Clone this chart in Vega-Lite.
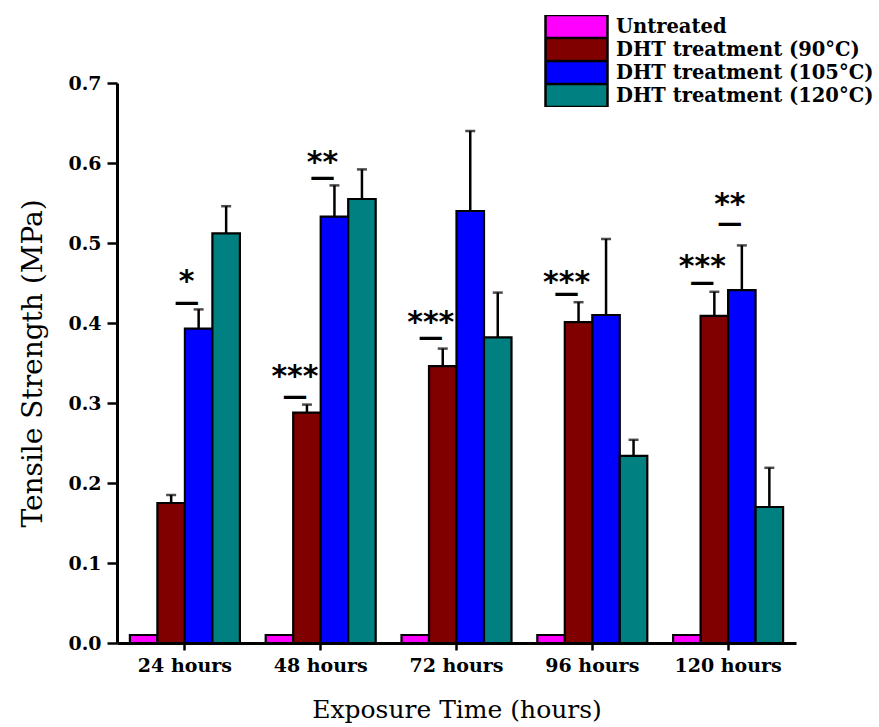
{
  "$schema": "https://vega.github.io/schema/vega-lite/v6.json",
  "width": 679,
  "height": 560,
  "autosize": {"type": "none"},
  "padding": {"left": 117, "top": 83, "right": 83, "bottom": 84},
  "background": "white",
  "config": {"view": {"stroke": null}, "font": "DejaVu Serif"},
  "datasets": {
    "bars": [
      {"time": "24 hours", "series": "Untreated", "value": 0.01, "upper": null},
      {"time": "24 hours", "series": "DHT treatment (90°C)", "value": 0.175, "upper": 0.185},
      {"time": "24 hours", "series": "DHT treatment (105°C)", "value": 0.393, "upper": 0.417},
      {"time": "24 hours", "series": "DHT treatment (120°C)", "value": 0.512, "upper": 0.546},
      {"time": "48 hours", "series": "Untreated", "value": 0.01, "upper": null},
      {"time": "48 hours", "series": "DHT treatment (90°C)", "value": 0.288, "upper": 0.298},
      {"time": "48 hours", "series": "DHT treatment (105°C)", "value": 0.533, "upper": 0.572},
      {"time": "48 hours", "series": "DHT treatment (120°C)", "value": 0.555, "upper": 0.592},
      {"time": "72 hours", "series": "Untreated", "value": 0.01, "upper": null},
      {"time": "72 hours", "series": "DHT treatment (90°C)", "value": 0.346, "upper": 0.368},
      {"time": "72 hours", "series": "DHT treatment (105°C)", "value": 0.540, "upper": 0.640},
      {"time": "72 hours", "series": "DHT treatment (120°C)", "value": 0.382, "upper": 0.438},
      {"time": "96 hours", "series": "Untreated", "value": 0.01, "upper": null},
      {"time": "96 hours", "series": "DHT treatment (90°C)", "value": 0.401, "upper": 0.426},
      {"time": "96 hours", "series": "DHT treatment (105°C)", "value": 0.410, "upper": 0.505},
      {"time": "96 hours", "series": "DHT treatment (120°C)", "value": 0.234, "upper": 0.254},
      {"time": "120 hours", "series": "Untreated", "value": 0.01, "upper": null},
      {"time": "120 hours", "series": "DHT treatment (90°C)", "value": 0.409, "upper": 0.439},
      {"time": "120 hours", "series": "DHT treatment (105°C)", "value": 0.441, "upper": 0.497},
      {"time": "120 hours", "series": "DHT treatment (120°C)", "value": 0.170, "upper": 0.219}
    ],
    "sig": [
      {"time": "24 hours", "series": "DHT treatment (105°C)", "label": "*", "dash": 0.426, "star": 0.4575},
      {"time": "48 hours", "series": "DHT treatment (90°C)", "label": "***", "dash": 0.309, "star": 0.339},
      {"time": "48 hours", "series": "DHT treatment (105°C)", "label": "**", "dash": 0.5825, "star": 0.606},
      {"time": "72 hours", "series": "DHT treatment (90°C)", "label": "***", "dash": 0.3825, "star": 0.406},
      {"time": "96 hours", "series": "DHT treatment (90°C)", "label": "***", "dash": 0.4375, "star": 0.456},
      {"time": "120 hours", "series": "DHT treatment (90°C)", "label": "***", "dash": 0.451, "star": 0.476},
      {"time": "120 hours", "series": "DHT treatment (105°C)", "label": "**", "dash": 0.525, "star": 0.554}
    ]
  },
  "encoding": {
    "x": {
      "field": "time", "type": "nominal",
      "sort": ["24 hours", "48 hours", "72 hours", "96 hours", "120 hours"],
      "scale": {"paddingInner": 0.19, "paddingOuter": 0.095},
      "axis": {
        "title": "Exposure Time (hours)", "labelAngle": 0,
        "labelFont": "DejaVu Serif", "labelFontWeight": "bold", "labelFontSize": 19, "labelColor": "black",
        "labelPadding": 6, "tickSize": 7, "tickWidth": 2.5, "tickColor": "black",
        "domainColor": "black", "domainWidth": 3,
        "titleFont": "DejaVu Serif", "titleFontWeight": "normal", "titleFontSize": 25, "titleColor": "black", "titlePadding": 22
      }
    },
    "xOffset": {
      "field": "series", "type": "nominal",
      "scale": {"domain": ["Untreated", "DHT treatment (90°C)", "DHT treatment (105°C)", "DHT treatment (120°C)"]}
    }
  },
  "layer": [
    {
      "data": {"name": "bars"},
      "mark": {"type": "bar", "stroke": "black", "strokeWidth": 2.2},
      "encoding": {
        "y": {
          "field": "value", "type": "quantitative",
          "scale": {"domain": [0, 0.7], "nice": false, "zero": true},
          "axis": {
            "title": "Tensile Strength (MPa)", "grid": false,
            "values": [0, 0.05, 0.1, 0.15, 0.2, 0.25, 0.3, 0.35, 0.4, 0.45, 0.5, 0.55, 0.6, 0.65, 0.7],
            "labelExpr": "round(datum.value*20)%2==0 ? format(datum.value, '.1f') : ''",
            "labelFont": "DejaVu Serif", "labelFontWeight": "bold", "labelFontSize": 19, "labelColor": "black",
            "labelPadding": 6, "tickSize": 10, "tickWidth": 2.5, "tickColor": "black",
            "domainColor": "black", "domainWidth": 3,
            "titleFont": "DejaVu Serif", "titleFontWeight": "normal", "titleFontSize": 28, "titleColor": "black", "titlePadding": 20,
            "encoding": {"ticks": {"x2": {"signal": "round(datum.value*20)%2==0 ? -10 : -6"}}}
          }
        },
        "color": {
          "field": "series", "type": "nominal",
          "scale": {
            "domain": ["Untreated", "DHT treatment (90°C)", "DHT treatment (105°C)", "DHT treatment (120°C)"],
            "range": ["#ff00ff", "#800000", "#0000ff", "#008080"]
          },
          "legend": {
            "orient": "none", "legendX": 427, "legendY": -68, "title": null,
            "symbolType": "M-1,-0.37H1V0.37H-1Z", "symbolSize": 3844,
            "symbolStrokeColor": "black", "symbolStrokeWidth": 2.5, "symbolOpacity": 1,
            "clipHeight": 23, "rowPadding": 0, "labelOffset": 7, "padding": 0,
            "labelFont": "DejaVu Serif", "labelFontWeight": "bold", "labelFontSize": 19.5, "labelColor": "black", "labelLimit": 400
          }
        }
      }
    },
    {
      "data": {"name": "bars"},
      "transform": [{"filter": "datum.upper != null"}],
      "mark": {"type": "rule", "color": "black", "strokeWidth": 2.5},
      "encoding": {
        "y": {"field": "value", "type": "quantitative"},
        "y2": {"field": "upper"}
      }
    },
    {
      "data": {"name": "bars"},
      "transform": [{"filter": "datum.upper != null"}],
      "mark": {"type": "tick", "color": "black", "orient": "horizontal", "size": 10, "thickness": 2.5},
      "encoding": {
        "y": {"field": "upper", "type": "quantitative"}
      }
    },
    {
      "data": {"name": "sig"},
      "mark": {"type": "text", "text": "—", "font": "DejaVu Sans", "fontWeight": "bold", "fontSize": 25, "baseline": "middle", "dx": -12, "color": "black"},
      "encoding": {
        "y": {"field": "dash", "type": "quantitative"}
      }
    },
    {
      "data": {"name": "sig"},
      "mark": {"type": "text", "font": "DejaVu Sans", "fontWeight": "bold", "fontSize": 30, "baseline": "middle", "dx": -12, "dy": 5, "color": "black"},
      "encoding": {
        "y": {"field": "star", "type": "quantitative"},
        "text": {"field": "label"}
      }
    }
  ]
}
